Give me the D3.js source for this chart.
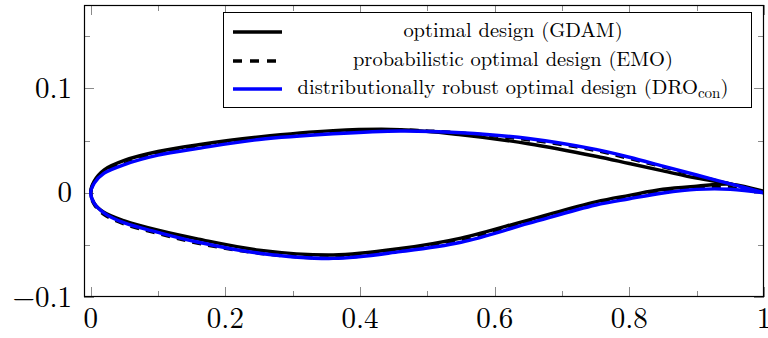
<!DOCTYPE html>
<html>
<head>
<meta charset="utf-8">
<script src="https://cdn.jsdelivr.net/npm/d3@7"></script>
<style>
  html, body { margin: 0; padding: 0; background: #fff; }
  svg { display: block; }
</style>
</head>
<body>
<svg id="chart" width="768" height="338"></svg>
<script>
// Chord stations shared by all three profiles
const stations = [0, 0.005, 0.02, 0.05, 0.1, 0.16, 0.25, 0.36, 0.46, 0.55, 0.65, 0.75, 0.8, 0.85, 0.9, 0.95, 1];

// optimal design (GDAM)
const gdamUpper = [0, 0.011, 0.022, 0.031, 0.0395, 0.046, 0.0535, 0.0595, 0.0605, 0.0555, 0.047, 0.035, 0.028, 0.021, 0.014, 0.0085, 0.0015];
const gdamLower = [0, -0.010, -0.019, -0.027, -0.036, -0.0445, -0.055, -0.0597, -0.0535, -0.0435, -0.0262, -0.0088, -0.0025, 0.0033, 0.0062, 0.0082, 0.001];

// probabilistic optimal design (EMO)
const emoUpper = [0, 0.010, 0.020, 0.028, 0.037, 0.044, 0.052, 0.058, 0.060, 0.0572, 0.0508, 0.0405, 0.0328, 0.0248, 0.0163, 0.0083, 0];
const emoLower = [0, -0.011, -0.021, -0.030, -0.039, -0.0485, -0.058, -0.0625, -0.0555, -0.0462, -0.028, -0.0105, -0.0045, 0.0008, 0.0045, 0.0048, 0];

// distributionally robust optimal design (DRO_con)
const droUpper = [0, 0.009, 0.0187, 0.027, 0.036, 0.0425, 0.051, 0.0565, 0.0592, 0.0575, 0.052, 0.0415, 0.034, 0.0255, 0.017, 0.0085, 0];
const droLower = [0, -0.010, -0.0195, -0.029, -0.038, -0.0475, -0.058, -0.063, -0.0565, -0.0475, -0.0295, -0.0118, -0.0058, -0.0003, 0.0032, 0.0033, 0];

const xTicks = [0, 0.2, 0.4, 0.6, 0.8, 1];
const xMinorTicks = [0.1, 0.3, 0.5, 0.7, 0.9];
const yTicks = [-0.1, 0, 0.1];
const yMinorTicks = [-0.05, 0.05, 0.15];
const xTickLabels = ["0", "0.2", "0.4", "0.6", "0.8", "1"];
const yTickLabels = ["\u22120.1", "0", "0.1"];

const legendLabels = ["optimal design (GDAM)", "probabilistic optimal design (EMO)", "distributionally robust optimal design (DRO"];

const FONT = '"Latin Modern Roman", "Liberation Serif", serif';
const svg = d3.select("#chart");
const plot = { left: 84, right: 764, top: 5, bottom: 297 };

const x = d3.scaleLinear().domain([-0.01, 1]).range([plot.left, plot.right]);
const y = d3.scaleLinear().domain([-0.1, 0.18]).range([plot.bottom, plot.top]);

svg.append("defs").append("clipPath").attr("id", "plot-clip")
  .append("rect")
  .attr("x", plot.left).attr("y", plot.top)
  .attr("width", plot.right - plot.left).attr("height", plot.bottom - plot.top);

// Tick marks on all four sides, pointing inward
const majorLen = 10, minorLen = 6;
const tickG = svg.append("g").attr("stroke", "#8a8a8a").attr("stroke-width", 1);
function xTickMarks(vals, len) {
  vals.forEach(v => {
    const px = Math.round(x(v)) + 0.5;
    tickG.append("line").attr("x1", px).attr("x2", px).attr("y1", plot.bottom).attr("y2", plot.bottom - len);
    tickG.append("line").attr("x1", px).attr("x2", px).attr("y1", plot.top).attr("y2", plot.top + len);
  });
}
function yTickMarks(vals, len) {
  vals.forEach(v => {
    const py = Math.round(y(v)) + 0.5;
    tickG.append("line").attr("y1", py).attr("y2", py).attr("x1", plot.left).attr("x2", plot.left + len);
    tickG.append("line").attr("y1", py).attr("y2", py).attr("x1", plot.right).attr("x2", plot.right - len);
  });
}
xTickMarks(xTicks, majorLen);
xTickMarks(xMinorTicks, minorLen);
yTickMarks(yTicks, majorLen);
yTickMarks(yMinorTicks, minorLen);

// Tick labels
svg.append("g").selectAll("text").data(xTicks).join("text")
  .style("font-family", FONT).style("font-size", "29px")
  .attr("x", d => x(d))
  .attr("y", 328)
  .attr("text-anchor", "middle")
  .text((d, i) => xTickLabels[i]);

svg.append("g").selectAll("text").data(yTicks).join("text")
  .style("font-family", FONT).style("font-size", "29px")
  .attr("x", 72)
  .attr("y", d => y(d) + 9.5)
  .attr("text-anchor", "end")
  .text((d, i) => yTickLabels[i]);

// Profiles: trailing edge -> upper surface -> leading edge -> lower surface -> trailing edge
function profile(upper, lower) {
  const pts = [];
  for (let i = stations.length - 1; i >= 0; i--) pts.push([stations[i], upper[i]]);
  for (let i = 1; i < stations.length; i++) pts.push([stations[i], lower[i]]);
  return pts;
}
const line = d3.line()
  .x(d => x(d[0]))
  .y(d => y(d[1]))
  .curve(d3.curveCatmullRom.alpha(0.5));

const curves = svg.append("g").attr("clip-path", "url(#plot-clip)").attr("fill", "none")
  .attr("stroke-linejoin", "round");

curves.append("path").attr("d", line(profile(gdamUpper, gdamLower)))
  .attr("stroke", "#000").attr("stroke-width", 3.4);
curves.append("path").attr("d", line(profile(emoUpper, emoLower)))
  .attr("stroke", "#000").attr("stroke-width", 3.4).attr("stroke-dasharray", "9,7");
curves.append("path").attr("d", line(profile(droUpper, droLower)))
  .attr("stroke", "#0000ff").attr("stroke-width", 3.4);

// Frame
svg.append("rect")
  .attr("x", plot.left + 0.5).attr("y", plot.top + 0.5)
  .attr("width", plot.right - plot.left - 1).attr("height", plot.bottom - plot.top - 1)
  .attr("fill", "none").attr("stroke", "#000").attr("stroke-width", 1.2);

// Legend
const lg = svg.append("g");
lg.append("rect")
  .attr("x", 223.5).attr("y", 12.5).attr("width", 528).attr("height", 95)
  .attr("fill", "#fff").attr("stroke", "#000").attr("stroke-width", 1);

const rowY = [32, 61, 89];
const legendStyles = [
  { stroke: "#000", dash: null },
  { stroke: "#000", dash: "9,8" },
  { stroke: "#0000ff", dash: null }
];
legendStyles.forEach((s, i) => {
  const l = lg.append("line")
    .attr("x1", 233).attr("x2", 282).attr("y1", rowY[i]).attr("y2", rowY[i])
    .attr("stroke", s.stroke).attr("stroke-width", 3.5);
  if (s.dash) l.attr("stroke-dasharray", s.dash);
});

legendLabels.forEach((t, i) => {
  const txt = lg.append("text")
    .style("font-family", FONT).style("font-size", "20.5px")
    .attr("x", 513).attr("y", rowY[i] + 5)
    .attr("text-anchor", "middle");
  txt.append("tspan").text(t);
  if (i === 2) {
    txt.append("tspan").style("font-size", "15px").attr("dy", 4).text("con");
    txt.append("tspan").attr("dy", -4).text(")");
  }
});
</script>
</body>
</html>
